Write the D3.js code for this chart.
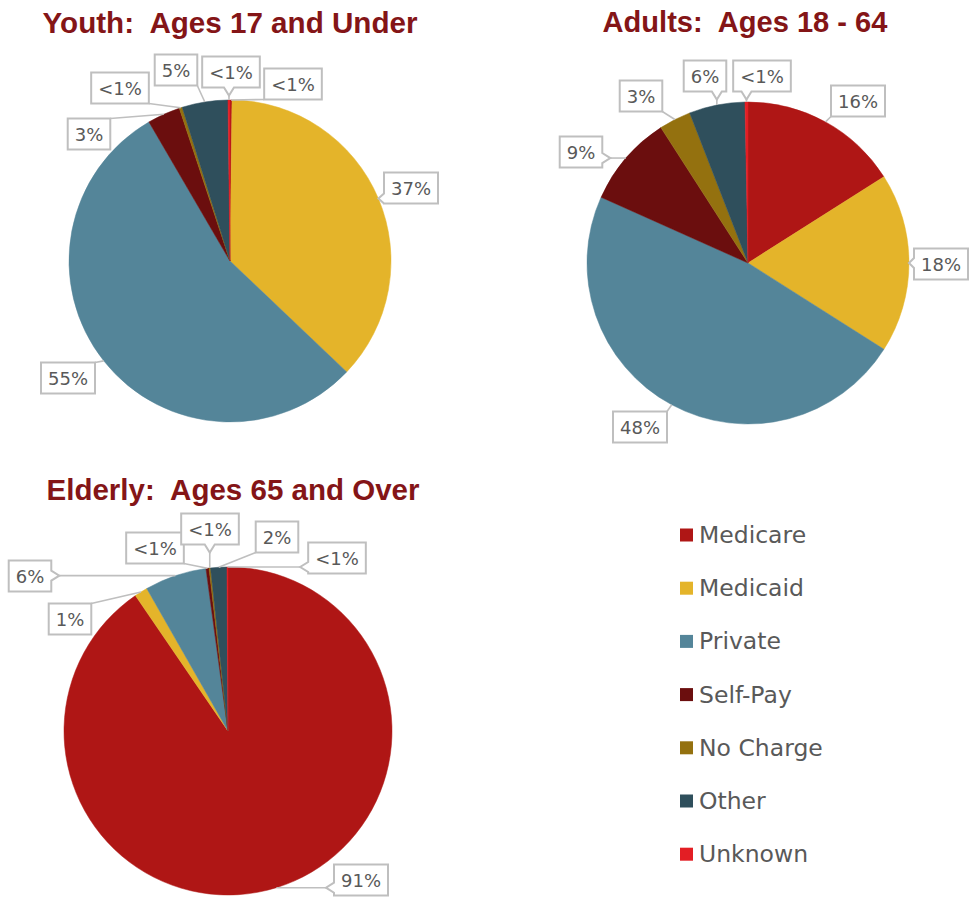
<!DOCTYPE html>
<html>
<head>
<meta charset="utf-8">
<script src="https://cdn.jsdelivr.net/npm/d3@7"></script>
<style>
  html, body { margin: 0; padding: 0; background: #fff; }
  svg { display: block; }
  .title { white-space: pre; }
</style>
</head>
<body>
<svg id="chart" width="975" height="899"></svg>
<script>
// ---------------- DATA ----------------
const categories = ["Medicare", "Medicaid", "Private", "Self-Pay", "No Charge", "Other", "Unknown"];
const youthValues   = [0.2, 36.9, 54.5, 3.3, 0.3, 4.6, 0.2];
const adultValues   = [16.0, 18.0, 47.7, 9.2, 3.2, 5.6, 0.3];
const elderlyValues = [90.5, 1.3, 6.1, 0.3, 0.15, 1.6, 0.1];
const chartTitles = ["Youth:  Ages 17 and Under", "Adults:  Ages 18 - 64", "Elderly:  Ages 65 and Over"];

// ---------------- STYLE / LAYOUT ----------------
const colors = ["#AF1615", "#E4B42A", "#548599", "#6B0E0E", "#94710F", "#2F4F5C", "#E31E24"];
const titleColor = "#841517";
const textColor = "#595959";
const boxStroke = "#BFBFBF";
const labelFont = "'DejaVu Sans', sans-serif";

const pies = [
  { values: youthValues, title: chartTitles[0], cx: 230, cy: 261, r: 161, titleX: 230, titleY: 22, titleW: 375,
    labelOffsets: [[63,-177],[181,-73],[-162,117],[-141,-127],[-110,-173],[-54,-191],[1,-189]] },
  { values: adultValues, title: chartTitles[1], cx: 748, cy: 263, r: 161, titleX: 745, titleY: 22, titleW: 285,
    labelOffsets: [[110,-162],[193,1],[-108,164],[-167,-111],[-107,-167],[-43,-187],[14,-187]] },
  { values: elderlyValues, title: chartTitles[2], cx: 228, cy: 731, r: 164, titleX: 233, titleY: 489, titleW: 373,
    labelOffsets: [[133,149],[-158,-112],[-198,-155],[-73,-183],[-18,-202],[49,-194],[109,-173]] }
];

const svg = d3.select("#chart");
const color = d3.scaleOrdinal().domain(categories).range(colors);
const pie = d3.pie().sort(null).value(d => d.value);

function fmt(v) { return v < 1 ? "<1%" : Math.round(v) + "%"; }

pies.forEach(p => {
  const g = svg.append("g").attr("transform", `translate(${p.cx},${p.cy})`);
  const data = categories.map((c, i) => ({ cat: c, value: p.values[i], i }));
  const arcs = pie(data);
  const arc = d3.arc().innerRadius(0).outerRadius(p.r);

  g.selectAll("path.slice").data(arcs).enter().append("path")
    .attr("class", "slice")
    .attr("d", arc)
    .attr("fill", d => color(d.data.cat))
    .attr("stroke", d => color(d.data.cat))
    .attr("stroke-width", 0.5);

  // title
  const t = svg.append("text")
    .attr("class", "title")
    .attr("x", p.titleX).attr("y", p.titleY)
    .attr("text-anchor", "middle").attr("dominant-baseline", "central")
    .attr("font-family", "'Liberation Sans', Arial, sans-serif")
    .attr("font-weight", "bold").attr("font-size", 25)
    .attr("fill", titleColor)
    .text(p.title);
  const w = t.node().getComputedTextLength();
  t.attr("font-size", 25 * p.titleW / w);

  // labels
  const lg = g.append("g");
  arcs.forEach((a, k) => {
    const mid = (a.startAngle + a.endAngle) / 2;
    const tx = Math.sin(mid) * p.r, ty = -Math.cos(mid) * p.r;
    const [bx, by] = p.labelOffsets[k];
    const txt = lg.append("text")
      .attr("x", bx).attr("y", by)
      .attr("text-anchor", "middle").attr("dominant-baseline", "central")
      .attr("font-family", labelFont).attr("font-size", 18)
      .attr("fill", textColor)
      .text(fmt(a.data.value));
    const tw = txt.node().getComputedTextLength();
    const bw = tw + 14, bh = 31;
    const x0 = bx - bw / 2, y0 = by - bh / 2, x1 = bx + bw / 2, y1 = by + bh / 2;
    const px = Math.max(x0, Math.min(x1, tx)), py = Math.max(y0, Math.min(y1, ty));
    const inside = tx > x0 && tx < x1 && ty > y0 && ty < y1;
    if (!inside) {
      lg.insert("line", "text")
        .attr("x1", px).attr("y1", py).attr("x2", tx).attr("y2", ty)
        .attr("stroke", boxStroke).attr("stroke-width", 1.6);
    }
    let dPath;
    const notch = 5, tip = 8;
    const dx = tx - px, dy = ty - py, len = Math.hypot(dx, dy) || 1;
    const ux = dx / len, uy = dy / len;
    const tipL = Math.min(tip, len);
    const qx = px + ux * tipL, qy = py + uy * tipL;
    if (!inside && (py === y0 || py === y1) && px > x0 + notch && px < x1 - notch) {
      if (py === y0) dPath = `M${x0},${y0}L${px - notch},${y0}L${qx},${qy}L${px + notch},${y0}L${x1},${y0}L${x1},${y1}L${x0},${y1}Z`;
      else dPath = `M${x0},${y0}L${x1},${y0}L${x1},${y1}L${px + notch},${y1}L${qx},${qy}L${px - notch},${y1}L${x0},${y1}Z`;
    } else if (!inside && (px === x0 || px === x1) && py > y0 + notch && py < y1 - notch) {
      if (px === x0) dPath = `M${x0},${y0}L${x1},${y0}L${x1},${y1}L${x0},${y1}L${x0},${py + notch}L${qx},${qy}L${x0},${py - notch}Z`;
      else dPath = `M${x0},${y0}L${x1},${y0}L${x1},${py - notch}L${qx},${qy}L${x1},${py + notch}L${x1},${y1}L${x0},${y1}Z`;
    } else {
      dPath = `M${x0},${y0}L${x1},${y0}L${x1},${y1}L${x0},${y1}Z`;
    }
    lg.insert("path", "text")
      .attr("d", dPath)
      .attr("fill", "#fff").attr("stroke", boxStroke).attr("stroke-width", 2);
  });
});

// legend
const legendX = 680, legendY0 = 535, legendStep = 53.2;
const leg = svg.append("g");
categories.forEach((c, i) => {
  const y = legendY0 + i * legendStep;
  leg.append("rect").attr("x", legendX).attr("y", y - 6.5).attr("width", 13).attr("height", 13).attr("fill", color(c));
  leg.append("text").attr("x", legendX + 19).attr("y", y)
    .attr("dominant-baseline", "central")
    .attr("font-family", labelFont).attr("font-size", 23.5)
    .attr("fill", textColor).text(c);
});
</script>
</body>
</html>
